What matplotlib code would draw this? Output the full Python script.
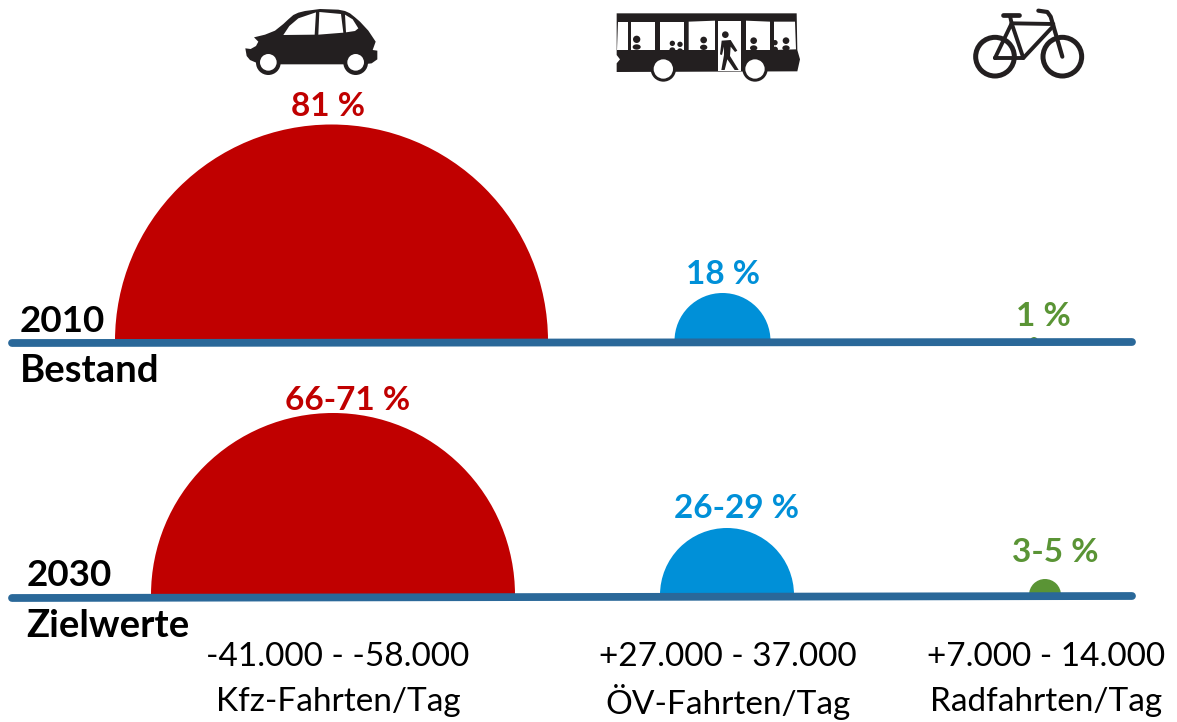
import matplotlib
matplotlib.use("Agg")
import matplotlib.pyplot as plt
from matplotlib.patches import Wedge, Polygon, Circle, Ellipse

plt.rcParams['font.family'] = ['Lato', 'DejaVu Sans']

modes = ['Kfz', 'ÖV', 'Rad']
share_2010 = ['81 %', '18 %', '1 %']
share_2030 = ['66-71 %', '26-29 %', '3-5 %']
radius_2010 = [216.5, 48, 4]
radius_2030 = [182, 67, 16]
center_2010 = [331.5, 722.5, 1034]
center_2030 = [333, 727, 1045]
change_labels = ['-41.000 - -58.000', '+27.000 - 37.000', '+7.000 - 14.000']
unit_labels = ['Kfz-Fahrten/Tag', 'ÖV-Fahrten/Tag', 'Radfahrten/Tag']
colors = ['#C00000', '#0090D8', '#5A9435']
LINE = '#2A6899'
BLACK = '#231F20'

fig = plt.figure(figsize=(11.77, 7.22), dpi=100)
ax = fig.add_axes([0, 0, 1, 1])
ax.set_xlim(0, 1177)
ax.set_ylim(722, 0)
ax.axis('off')

# semicircles
for cx, r, c in zip(center_2010, radius_2010, colors):
    ax.add_patch(Wedge((cx, 341), r, 180, 360, fc=c, ec='none', zorder=2))
for cx, r, c in zip(center_2030, radius_2030, colors):
    ax.add_patch(Wedge((cx, 595), r, 180, 360, fc=c, ec='none', zorder=2))

# baselines
ax.plot([12, 1132], [343, 342], color=LINE, lw=5.6, solid_capstyle='round', zorder=3)
ax.plot([12, 1132], [598, 596], color=LINE, lw=5.6, solid_capstyle='round', zorder=3)

# percent labels
kw = dict(fontweight='bold', fontsize=24, ha='center', va='center', zorder=4)
for x, y, s, c in zip([328, 723, 1043], [106, 275, 316], share_2010, colors):
    ax.text(x, y, s, color=c, **kw)
for x, y, s, c in zip([348, 736, 1055], [400, 509, 553], share_2030, colors):
    ax.text(x, y, s, color=c, **kw)

# row labels
ky = dict(fontweight='bold', fontsize=26.5, va='center', ha='left', color='black', zorder=4)
kb = dict(fontweight='bold', fontsize=27.5, va='center', ha='left', color='black', zorder=4)
ax.text(20, 321, '2010', **ky)
ax.text(20, 371, 'Bestand', **kb)
ax.text(27, 576, '2030', **ky)
ax.text(26, 626, 'Zielwerte', **kb)

# bottom labels
kn = dict(fontsize=24, va='center', ha='center', color='black', zorder=4)
for x, s in zip([338, 728, 1046], change_labels):
    ax.text(x, 657, s, **kn)
for x, s in zip([338, 728, 1046], unit_labels):
    ax.text(x, 702, s, **kn)

def Z(pts, ox):
    return [(ox + x / 3, y / 3) for x, y in pts]

def poly(pts, ox, fc=BLACK, z=5):
    ax.add_patch(Polygon(Z(pts, ox), closed=True, fc=fc, ec='none', zorder=z))

def circ(x, y, r, ox, fc=BLACK, z=5, ec='none', lw=0):
    ax.add_patch(Circle((ox + x / 3, y / 3), r / 3, fc=fc, ec=ec, lw=lw, zorder=z))

def seg(pts, ox, lw=2.8, z=5):
    p = Z(pts, ox)
    ax.plot([a for a, b in p], [b for a, b in p], color=BLACK, lw=lw,
            solid_capstyle='round', solid_joinstyle='round', zorder=z)

# car
o = 230
poly([(46, 145), (62, 147), (78, 138), (85, 125), (72, 112), (105, 104), (135, 92), (160, 72),
      (175, 58), (190, 45), (205, 38), (225, 33), (270, 27), (325, 29), (345, 33), (360, 40),
      (375, 52), (390, 65), (415, 92), (437, 125),
      (428, 150), (442, 152), (442, 178), (425, 190), (400, 193), (90, 193), (60, 180), (50, 168)], o)
poly([(160, 105), (178, 78), (205, 55), (258, 37), (254, 104)], o, 'white', 6)
poly([(268, 36), (333, 42), (340, 98), (265, 104)], o, 'white', 6)
poly([(345, 44), (368, 58), (385, 85), (375, 93), (348, 97)], o, 'white', 6)
for x in (115, 377):
    circ(x, 188, 37, o, BLACK, 6)
    circ(x, 187, 25, o, 'white', 7)

# bus
o = 600
poly([(50, 40), (590, 40), (592, 150), (600, 178), (592, 214), (50, 216), (50, 190), (60, 178), (50, 165)], o)
for win in ([(55, 65), (84, 65), (84, 150), (52, 150)],
            [(94, 65), (165, 65), (165, 150), (94, 150)],
            [(180, 65), (253, 65), (253, 150), (180, 150)],
            [(266, 65), (345, 62), (345, 150), (266, 150)],
            [(438, 62), (510, 65), (510, 150), (438, 150)],
            [(522, 65), (585, 65), (588, 148), (522, 150)]):
    poly(win, o, 'white', 6)
poly([(354, 62), (422, 62), (422, 212), (354, 212)], o, 'white', 6)
for x, y, r in [(110, 118, 11), (217, 130, 8), (240, 133, 8), (311, 120, 10),
                (461, 122, 10), (525, 128, 8), (558, 122, 10)]:
    circ(x, y, r, o, BLACK, 7)
    ax.add_patch(Ellipse((o + x / 3, (y + r + 12) / 3), 2.2 * r / 3, 16 / 3, fc=BLACK, ec='none', zorder=7))
circ(376, 104, 10, o, BLACK, 8)
poly([(365, 122), (392, 120), (412, 152), (405, 156), (392, 140), (390, 168), (416, 210), (404, 210),
      (382, 178), (374, 210), (364, 210), (372, 165), (372, 140), (366, 165), (360, 163)], o, BLACK, 8)
for x in (190, 465):
    circ(x, 207, 38, o, BLACK, 6)
    circ(x, 207, 29, o, 'white', 7)

# bike
o = 960
for x in (105, 307):
    ax.add_patch(Circle((o + x / 3, 170 / 3), 58 / 3, fc='none', ec=BLACK, lw=3.6, zorder=5))
seg([(105, 174), (155, 70), (190, 174), (105, 174)], o)
seg([(155, 70), (280, 72)], o)
seg([(190, 174), (280, 78)], o)
seg([(155, 70), (150, 48)], o)
seg([(128, 46), (178, 46)], o, lw=3.4)
seg([(307, 170), (272, 50), (262, 36), (235, 32)], o, lw=3)

fig.savefig('out.png', dpi=100)
